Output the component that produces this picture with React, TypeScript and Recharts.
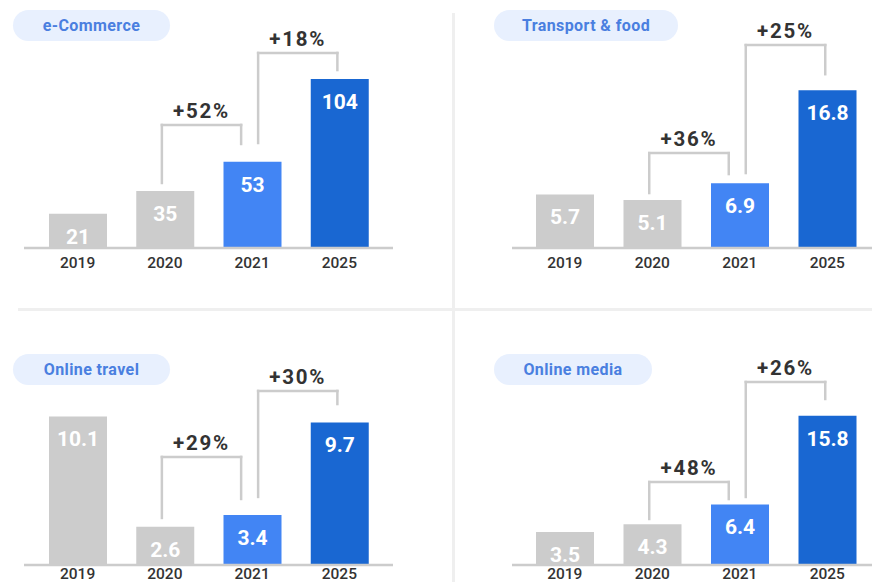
import { Bar, BarChart, Cell, LabelList, ReferenceLine, XAxis, YAxis } from "recharts";

const years = ["2019", "2020", "2021", "2025"];

const ecommerce = [21, 35, 53, 104];
const transportFood = [5.7, 5.1, 6.9, 16.8];
const onlineTravel = [10.1, 2.6, 3.4, 9.7];
const onlineMedia = [3.5, 4.3, 6.4, 15.8];

const ecommerceGrowth = ["+52%", "+18%"];
const transportFoodGrowth = ["+36%", "+25%"];
const onlineTravelGrowth = ["+29%", "+30%"];
const onlineMediaGrowth = ["+48%", "+26%"];

const barColors = ["#cccccc", "#cccccc", "#4285f4", "#1967d2"];
const lineGray = "#cccccc";
const FONT = "Roboto, 'Noto Sans', sans-serif";

// which bars each growth bracket joins, and how far its legs sit off the bar centre (px)
const bracketPairs = [
  [1, 2],
  [2, 3],
];
const legShift = [
  [-3, -11],
  [6, -2],
];

type Panel = {
  title: string;
  values: number[];
  growth: string[];
  left: number;
  top: number;
  pillWidth: number;
  margin: { top: number; right: number; bottom: number; left: number };
  padding: { left: number; right: number };
  axisHeight: number;
  tickMargin: number;
  yMax: number;
  // bracket levels in value units: [left leg end, top, right leg end]
  levels: number[][];
};

const panels: Panel[] = [
  {
    title: "e-Commerce",
    values: ecommerce,
    growth: ecommerceGrowth,
    left: 0,
    top: 0,
    pillWidth: 157,
    margin: { top: 0, right: 43, bottom: 13, left: 24 },
    padding: { left: 10, right: 10 },
    axisHeight: 30,
    tickMargin: 3,
    yMax: 152.6,
    levels: [
      [40, 75.7, 64],
      [64.6, 120, 109.5],
    ],
  },
  {
    title: "Transport & food",
    values: transportFood,
    growth: transportFoodGrowth,
    left: 436,
    top: 0,
    pillWidth: 184,
    margin: { top: 0, right: 0, bottom: 13, left: 76 },
    padding: { left: 9, right: 1 },
    axisHeight: 30,
    tickMargin: 3,
    yMax: 26.4,
    levels: [
      [5.85, 10.1, 7.87],
      [7.98, 21.6, 18.5],
    ],
  },
  {
    title: "Online travel",
    values: onlineTravel,
    growth: onlineTravelGrowth,
    left: 0,
    top: 291,
    pillWidth: 157,
    margin: { top: 0, right: 43, bottom: 0, left: 24 },
    padding: { left: 10, right: 10 },
    axisHeight: 17,
    tickMargin: -3,
    yMax: 18.64,
    levels: [
      [3.2, 7.35, 4.49],
      [4.63, 11.84, 10.95],
    ],
  },
  {
    title: "Online media",
    values: onlineMedia,
    growth: onlineMediaGrowth,
    left: 436,
    top: 291,
    pillWidth: 158,
    margin: { top: 0, right: 0, bottom: 0, left: 76 },
    padding: { left: 9, right: 1 },
    axisHeight: 17,
    tickMargin: -3,
    yMax: 29.0,
    levels: [
      [4.87, 8.78, 6.98],
      [7.2, 19.37, 17.57],
    ],
  },
];

const W = 436;
const H = 291;

function GrowthPanel({ p }: { p: Panel }) {
  const rows = years.map((year, i) => ({ year, idx: i, value: p.values[i] }));
  const plotW = W - p.margin.left - p.margin.right - p.padding.left - p.padding.right;
  const band = plotW / years.length;
  const lineProps = {
    stroke: lineGray,
    strokeWidth: 2.5,
    strokeLinecap: "square" as const,
    xAxisId: "pos",
    ifOverflow: "visible" as const,
  };

  return (
    <div style={{ position: "absolute", left: p.left, top: p.top, width: W, height: H }}>
      <div
        style={{
          position: "absolute",
          left: p.left === 0 ? 13 : 58,
          top: p.top === 0 ? 10 : 63,
          width: p.pillWidth,
          height: 31,
          borderRadius: 16,
          background: "#e8f0fe",
          color: "#4a7fe0",
          fontSize: 16,
          fontWeight: 700,
          letterSpacing: 0.4,
          lineHeight: "32px",
          textAlign: "center",
        }}
      >
        {p.title}
      </div>
      <BarChart width={W} height={H} data={rows} margin={p.margin} style={{ position: "absolute", left: 0, top: 0 }}>
        <XAxis
          xAxisId="cat"
          dataKey="year"
          height={p.axisHeight}
          padding={p.padding}
          tickLine={false}
          tickMargin={p.tickMargin}
          axisLine={{ stroke: lineGray, strokeWidth: 2.5 }}
          tick={{ fill: "#333333", fontSize: 15.5, fontWeight: 500, fontFamily: FONT }}
          interval={0}
        />
        <XAxis
          xAxisId="pos"
          dataKey="idx"
          type="number"
          domain={[-0.5, 3.5]}
          allowDataOverflow
          padding={p.padding}
          hide
        />
        <YAxis type="number" domain={[0, p.yMax]} allowDataOverflow hide />
        <Bar dataKey="value" xAxisId="cat" barSize={58} isAnimationActive={false}>
          {rows.map((r, i) => (
            <Cell key={r.year} fill={barColors[i]} />
          ))}
          <LabelList
            dataKey="value"
            position="insideTop"
            offset={15}
            fill="#ffffff"
            fontSize={21}
            fontWeight={700}
            fontFamily={FONT}
          />
        </Bar>
        {bracketPairs.map(([a, b], k) => {
          const xl = a + legShift[k][0] / band;
          const xr = b + legShift[k][1] / band;
          const [yl, yt, yr] = p.levels[k];
          return [
            <ReferenceLine
              key={`l${k}`}
              {...lineProps}
              segment={[
                { x: xl, y: yl },
                { x: xl, y: yt },
              ]}
            />,
            <ReferenceLine
              key={`t${k}`}
              {...lineProps}
              segment={[
                { x: xl, y: yt },
                { x: xr, y: yt },
              ]}
              label={{
                value: p.growth[k],
                position: "top",
                offset: 7,
                fill: "#333333",
                fontSize: 20.5,
                fontWeight: 700,
                letterSpacing: 1.8,
                fontFamily: FONT,
              }}
            />,
            <ReferenceLine
              key={`r${k}`}
              {...lineProps}
              segment={[
                { x: xr, y: yt },
                { x: xr, y: yr },
              ]}
            />,
          ];
        })}
      </BarChart>
    </div>
  );
}

export default function App() {
  return (
    <div
      style={{
        position: "absolute",
        left: 0,
        top: 0,
        width: 872,
        height: 582,
        overflow: "hidden",
        background: "#ffffff",
        fontFamily: FONT,
      }}
    >
      <div style={{ position: "absolute", left: 452, top: 13, width: 3, height: 569, background: "#efefef" }} />
      <div style={{ position: "absolute", left: 18, top: 308, width: 854, height: 3, background: "#efefef" }} />
      {panels.map((p) => (
        <GrowthPanel key={p.title} p={p} />
      ))}
    </div>
  );
}
